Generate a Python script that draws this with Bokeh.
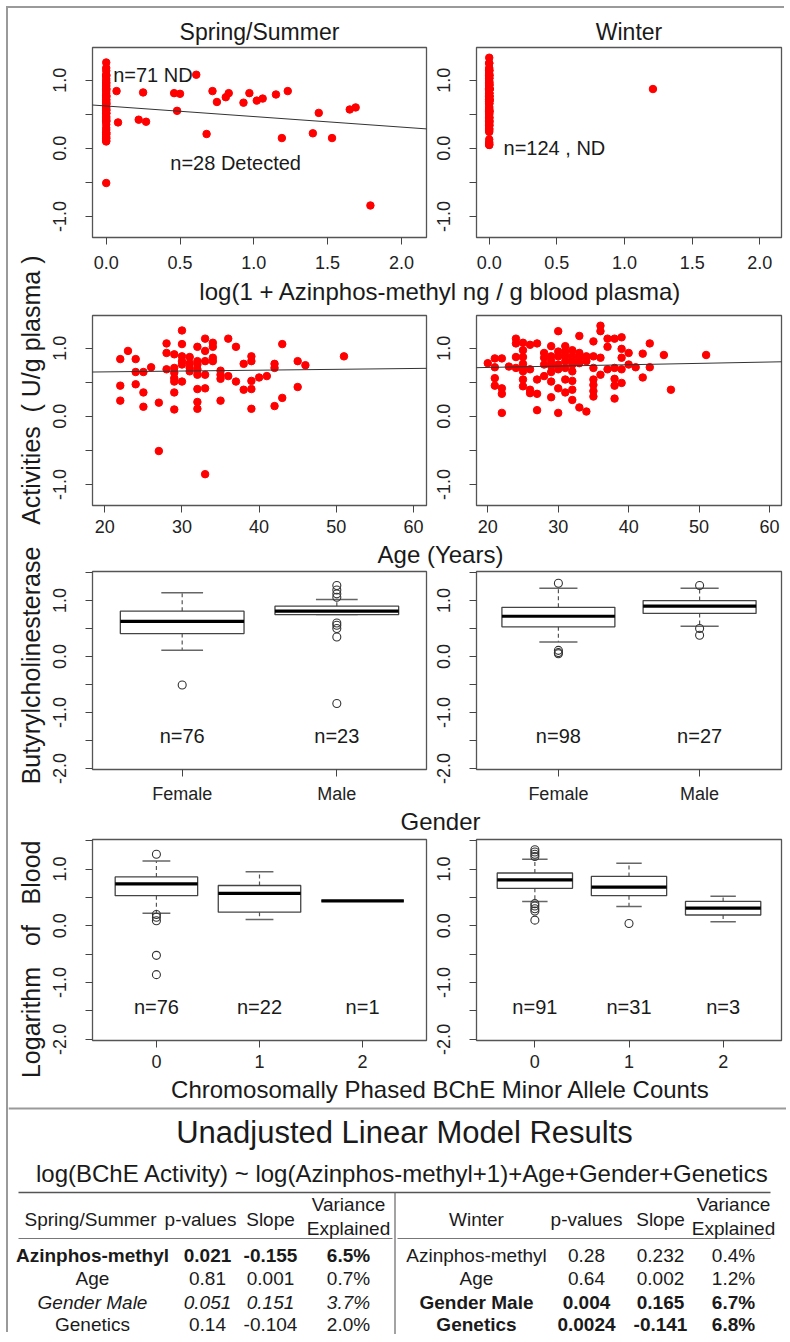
import math
from bokeh.plotting import figure
from bokeh.models import Range1d, FixedTicker, CustomJSTickFormatter, NumeralTickFormatter, Slope, Span
from bokeh.layouts import row, column
from bokeh.embed import file_html
from bokeh.resources import INLINE
from bokeh.core.properties import value

FONT = "Liberation Sans"
INK = "#1a1a1a"
FRAME = "#555555"

# ---------------- data ----------------
season_titles = ["Spring/Summer", "Winter"]

# Row 1: log BChE activity vs log(1 + azinphos-methyl); ND = not detected (x = 0)
ss_nd_act = [0.84, 0.45, 0.23, 0.96, 0.65, 0.47, 0.35, 0.14, 0.72, 0.20, -0.51, 1.07, 0.93, 0.69,
             0.91, 0.71, 0.64, 0.56, 0.51, 0.10, 1.26, 1.06, 0.88, 0.81, 0.76, 0.87, 0.78, 0.66,
             1.02, 0.61, 0.40, 0.21, 0.11, 1.14, 0.96, 0.41, 1.08, 0.86, 0.67, 0.55, 0.23, 0.59,
             0.51, 0.77, 0.39, 0.52, 0.57, 0.15, 0.27, 0.43, 0.75, 1.18, 0.30, 0.99, 0.17]
ss_det_azm = [0.07, 0.08, 0.22, 0.25, 0.27, 0.46, 0.48, 0.50, 0.61, 0.68, 0.72, 0.75, 0.81, 0.83,
              0.93, 0.97, 1.02, 1.06, 1.15, 1.19, 1.23, 1.40, 1.44, 1.53, 1.65, 1.69, 1.79]
ss_det_act = [0.84, 0.38, 0.42, 0.82, 0.39, 0.81, 0.55, 0.80, 1.08, 0.21, 0.84, 0.68, 0.75, 0.81,
              0.67, 0.81, 0.70, 0.73, 0.79, 0.15, 0.84, 0.22, 0.52, 0.15, 0.57, 0.60, -0.84]
w_nd_act = [0.78, 0.85, 0.72, 0.56, 0.45, 0.85, 0.41, 0.33, 0.05, 0.73, 1.14, 1.07, 0.87, 0.71,
            1.08, 0.97, 0.87, 0.77, 0.66, 0.54, 0.44, 0.71, 1.05, 0.69, 0.39, 0.34, 1.07, 0.54,
            0.33, 0.09, 0.93, 0.86, 0.59, 0.76, 1.03, 0.88, 0.81, 0.65, 0.51, 0.28, 0.74, 1.25,
            0.88, 0.76, 0.69, 0.41, 0.05, 0.95, 1.03, 0.88, 0.81, 0.71, 0.54, 0.35, 0.95, 0.97,
            0.88, 0.81, 0.66, 0.52, 0.39, 0.24, 0.76, 1.18, 0.93, 0.86, 0.13, 0.78, 0.88, 0.07,
            0.81, 1.10, 0.88, 0.71, 0.54, 0.46, 0.37, 0.29, 1.33, 1.25, 0.86, 0.61, 1.14, 1.02,
            0.69, 1.14, 0.71, 0.55, 0.45, 0.26, 1.16, 0.99, 0.86, 0.69, 0.49, 0.93, 0.76, 0.72,
            0.92, 0.57, 1.07, 0.72, 0.90, 0.39]
w_det_azm = [1.21]
w_det_act = [0.87]
azm_ticks = [0.0, 0.5, 1.0, 1.5, 2.0]

# Row 2: activity vs age
ss_age = [22, 22, 22, 23, 24, 24, 24, 25, 25, 25, 26, 27, 27, 28, 28, 28, 29, 29, 29, 29, 29, 29, 29,
          30, 30, 30, 30, 30, 30, 31, 31, 31, 31, 32, 32, 32, 32, 32, 32, 32, 32, 33, 33, 33, 33, 33,
          33, 34, 34, 34, 34, 35, 35, 35, 35, 36, 36, 37, 37, 38, 38, 39, 39, 39, 39, 39, 40, 41, 42,
          42, 42, 43, 43, 45, 45, 46, 51]
ss_act = [0.84, 0.45, 0.23, 0.96, 0.84, 0.65, 0.47, 0.65, 0.35, 0.14, 0.72, 0.20, -0.51, 1.07, 0.93,
          0.69, 0.91, 0.71, 0.64, 0.56, 0.51, 0.35, 0.10, 1.26, 1.06, 0.88, 0.81, 0.76, 0.51, 0.87,
          0.78, 0.71, 0.66, 1.02, 0.81, 0.76, 0.69, 0.61, 0.40, 0.21, 0.11, 1.14, 0.96, 0.81, 0.61,
          0.41, -0.85, 1.08, 1.02, 0.86, 0.81, 0.67, 0.61, 0.55, 0.23, 1.14, 0.59, 1.02, 0.51, 0.77,
          0.39, 0.88, 0.81, 0.52, 0.40, 0.11, 0.57, 0.59, 0.77, 0.71, 0.15, 1.06, 0.27, 0.81, 0.43,
          0.75, 0.88]
w_age = [20, 21, 21, 21, 21, 22, 22, 22, 22, 23, 24, 24, 24, 24, 25, 25, 25, 25, 25, 25, 25, 25,
         26, 26, 26, 26, 27, 27, 27, 27, 28, 28, 28, 28, 29, 29, 29, 29, 29, 29, 29, 30, 30, 30, 30,
         30, 30, 30, 31, 31, 31, 31, 31, 31, 31, 32, 32, 32, 32, 32, 32, 32, 32, 33, 33, 33, 33, 33,
         34, 34, 34, 35, 35, 35, 35, 35, 35, 35, 36, 36, 36, 36, 37, 37, 37, 38, 38, 38, 38, 38, 39,
         39, 39, 39, 39, 40, 40, 41, 42, 42, 43, 43, 45, 46, 51]
w_act = [0.78, 0.85, 0.72, 0.56, 0.45, 0.85, 0.41, 0.33, 0.05, 0.73, 1.14, 1.07, 0.87, 0.71, 1.08,
         0.97, 0.87, 0.77, 0.66, 0.54, 0.44, 0.71, 1.05, 0.69, 0.39, 0.34, 1.07, 0.54, 0.33, 0.09,
         0.93, 0.86, 0.59, 0.76, 1.03, 0.88, 0.81, 0.65, 0.51, 0.28, 0.74, 1.25, 0.88, 0.76, 0.69,
         0.41, 0.05, 0.95, 1.03, 0.88, 0.81, 0.71, 0.54, 0.35, 0.95, 0.97, 0.88, 0.81, 0.66, 0.52,
         0.39, 0.24, 0.76, 1.18, 0.93, 0.86, 0.13, 0.78, 0.88, 0.07, 0.81, 1.10, 0.88, 0.71, 0.54,
         0.46, 0.37, 0.29, 1.33, 1.25, 0.86, 0.61, 1.14, 1.02, 0.69, 1.14, 0.71, 0.55, 0.45, 0.26,
         1.16, 0.99, 0.86, 0.69, 0.49, 0.93, 0.76, 0.72, 0.92, 0.57, 1.07, 0.72, 0.90, 0.39, 0.90]
age_ticks = [20, 30, 40, 50, 60]

# fitted lines (intercept, slope)
fit_ss_azm = [0.621, -0.155]
fit_ss_age = [0.627, 0.00125]
fit_w_age = [0.677, 0.002]

# Row 3: gender boxplots
gender_cats = ["Female", "Male"]
ss_gender_n = [76, 23]
ss_gender_lo = [0.11, 0.75]
ss_gender_q1 = [0.41, 0.75]
ss_gender_med = [0.63, 0.81]
ss_gender_q3 = [0.81, 0.90]
ss_gender_hi = [1.14, 1.02]
ss_gender_out_grp = [0, 1, 1, 1, 1, 1, 1, 1, 1, 1]
ss_gender_out_val = [-0.51, 1.27, 1.19, 1.12, 1.06, 0.60, 0.56, 0.50, 0.35, -0.84]
w_gender_n = [98, 27]
w_gender_lo = [0.26, 0.54]
w_gender_q1 = [0.53, 0.77]
w_gender_med = [0.72, 0.90]
w_gender_q3 = [0.88, 1.00]
w_gender_hi = [1.22, 1.22]
w_gender_out_grp = [0, 0, 0, 0, 1, 1, 1]
w_gender_out_val = [1.31, 0.11, 0.07, 0.05, 1.27, 0.50, 0.38]

# Row 4: BChE minor allele count boxplots
allele_cats = ["0", "1", "2"]
ss_gen_n = [76, 22, 1]
ss_gen_lo = [0.22, 0.11, 0.44]
ss_gen_q1 = [0.53, 0.24, 0.44]
ss_gen_med = [0.74, 0.57, 0.44]
ss_gen_q3 = [0.86, 0.71, 0.44]
ss_gen_hi = [1.14, 0.95, 0.44]
ss_gen_out_grp = [0, 0, 0, 0, 0, 0]
ss_gen_out_val = [1.26, 0.20, 0.15, 0.09, -0.52, -0.86]
w_gen_n = [91, 31, 3]
w_gen_lo = [0.43, 0.34, 0.07]
w_gen_q1 = [0.66, 0.53, 0.19]
w_gen_med = [0.81, 0.68, 0.31]
w_gen_q3 = [0.93, 0.87, 0.43]
w_gen_hi = [1.17, 1.10, 0.52]
w_gen_out_grp = [0, 0, 0, 0, 0, 0, 0, 0, 0, 1]
w_gen_out_val = [1.34, 1.30, 1.26, 1.22, 0.39, 0.35, 0.30, 0.26, 0.10, 0.04]

# Table
tbl_title = "Unadjusted Linear Model Results"
tbl_formula = "log(BChE Activity) ~ log(Azinphos-methyl+1)+Age+Gender+Genetics"
tbl_terms = ["Azinphos-methyl", "Age", "Gender Male", "Genetics"]
ss_p = ["0.021", "0.81", "0.051", "0.14"]
ss_slope = ["-0.155", "0.001", "0.151", "-0.104"]
ss_var = ["6.5%", "0.7%", "3.7%", "2.0%"]
ss_style = ["bold", "normal", "italic", "normal"]
w_p = ["0.28", "0.64", "0.004", "0.0024"]
w_slope = ["0.232", "0.002", "0.165", "-0.141"]
w_var = ["0.4%", "1.2%", "6.7%", "6.8%"]
w_style = ["normal", "normal", "bold", "bold"]

ylabel_words = ["Logarithm", "of", "Blood", "Butyrylcholinesterase", "Activities", "( U/g  plasma )"]

# ---------------- helpers ----------------
LEFT_W, RIGHT_W = 384, 352
YFMT = CustomJSTickFormatter(code="return Math.abs(tick - Math.round(tick)) < 1e-6 ? tick.toFixed(1) : '';")


def panel(width, height, xr, yr, mbl, mbr, mbt, mbb, xticks, yticks, xstand, xlabels=None, xfmt=None, title=None):
    p = figure(width=width, height=height, x_range=Range1d(*xr), y_range=Range1d(*yr),
               output_backend="svg", toolbar_location=None, title=title,
               min_border_left=mbl, min_border_right=mbr, min_border_top=mbt, min_border_bottom=mbb)
    p.grid.visible = False
    p.outline_line_color = FRAME
    p.outline_line_width = 1.3
    p.border_fill_color = "white"
    p.background_fill_color = "white"
    for ax in (p.xaxis[0], p.yaxis[0]):
        ax.axis_line_color = None
        ax.major_tick_in = 0
        ax.major_tick_out = 7
        ax.major_tick_line_color = "#444444"
        ax.minor_tick_line_color = None
        ax.major_label_text_font = FONT
        ax.major_label_text_font_size = "18px"
        ax.major_label_text_color = "#222222"
    p.xaxis.ticker = FixedTicker(ticks=xticks)
    p.yaxis.ticker = FixedTicker(ticks=yticks)
    p.xaxis.major_label_standoff = xstand
    p.yaxis.major_label_standoff = 19
    p.yaxis.major_label_orientation = "parallel"
    p.yaxis.formatter = YFMT
    if xlabels is not None:
        p.xaxis.major_label_overrides = {t: l for t, l in zip(xticks, xlabels)}
    if xfmt is not None:
        p.xaxis.formatter = xfmt
    if title is not None:
        p.title.text_font = FONT
        p.title.text_font_size = "23px"
        p.title.text_font_style = "normal"
        p.title.text_color = INK
        p.title.align = "center"
        p.title.standoff = 6
    return p


def add_text(p, x, y, text, size="20px", align="left", style="normal", color=INK, angle=0.0):
    p.text(x=x, y=y, text=text, text_font=value(FONT), text_font_size=size, text_align=align,
           text_baseline="middle", text_font_style=style, text_color=color, angle=angle)


def draw_boxes(p, n, lo, q1, med, q3, hi, out_grp, out_val, ny):
    pos = [i + 1 for i in range(len(med))]
    p.segment(x0=pos, y0=q3, x1=pos, y1=hi, line_color="#555555", line_width=1.2, line_dash="4 3")
    p.segment(x0=pos, y0=q1, x1=pos, y1=lo, line_color="#555555", line_width=1.2, line_dash="4 3")
    p.segment(x0=[x - 0.135 for x in pos], y0=hi, x1=[x + 0.135 for x in pos], y1=hi,
              line_color="#666666", line_width=1.5)
    p.segment(x0=[x - 0.135 for x in pos], y0=lo, x1=[x + 0.135 for x in pos], y1=lo,
              line_color="#666666", line_width=1.5)
    p.quad(left=[x - 0.4 for x in pos], right=[x + 0.4 for x in pos], bottom=q1, top=q3,
           fill_color="white", line_color="#444444", line_width=1.3)
    p.segment(x0=[x - 0.4 for x in pos], y0=med, x1=[x + 0.4 for x in pos], y1=med,
              line_color="black", line_width=3.2)
    p.scatter(x=[g + 1 for g in out_grp], y=out_val, marker="circle", size=8,
              fill_color=None, line_color="#333333", line_width=1.1)
    add_text(p, pos, [ny] * len(pos), ["n=%d" % k for k in n], align="center")


def strip(text, height, cy):
    p = figure(width=736, height=height, x_range=Range1d(50, 786), y_range=Range1d(height, 0),
               output_backend="svg", toolbar_location=None, x_axis_location=None,
               y_axis_location=None, min_border=0)
    p.grid.visible = False
    p.outline_line_color = None
    add_text(p, [440], [cy], [text], size="24px", align="center")
    return p


RED = "#ff0000"
YR_SC = (-1.31, 1.48)
YT_SC = [-1.0, -0.5, 0.0, 0.5, 1.0]
YR_BX = (-2.02, 1.52)
YT_BX = [-2.0, -1.5, -1.0, -0.5, 0.0, 0.5, 1.0, 1.5]

# ---------------- row 1 ----------------
r1a = panel(LEFT_W, 268, (-0.093, 2.17), YR_SC, 42, 8, 39, 39, azm_ticks, YT_SC, 11,
            xfmt=NumeralTickFormatter(format="0.0"), title=season_titles[0])
r1a.scatter(x=[0.0] * len(ss_nd_act), y=ss_nd_act, size=7.5, color=RED)
r1a.scatter(x=ss_det_azm, y=ss_det_act, size=7.5, color=RED)
r1a.add_layout(Slope(gradient=fit_ss_azm[1], y_intercept=fit_ss_azm[0], line_color="#333333", line_width=1))
add_text(r1a, [0.047], [1.08], ["n=71  ND"])
add_text(r1a, [0.434], [-0.22], ["n=28 Detected"])

r1b = panel(RIGHT_W, 268, (-0.094, 2.16), YR_SC, 42, 5, 39, 39, azm_ticks, YT_SC, 11,
            xfmt=NumeralTickFormatter(format="0.0"), title=season_titles[1])
r1b.scatter(x=[0.0] * len(w_nd_act), y=w_nd_act, size=7.5, color=RED)
r1b.scatter(x=w_det_azm, y=w_det_act, size=7.5, color=RED)
add_text(r1b, [0.106], [0.01], ["n=124 , ND"])

# ---------------- row 2 ----------------
r2a = panel(LEFT_W, 235, (18.4, 61.7), YR_SC, 42, 8, 10, 35, age_ticks, YT_SC, 7)
r2a.scatter(x=ss_age, y=ss_act, size=7.5, color=RED)
r2a.add_layout(Slope(gradient=fit_ss_age[1], y_intercept=fit_ss_age[0], line_color="#333333", line_width=1))
r2b = panel(RIGHT_W, 235, (18.4, 61.7), YR_SC, 42, 5, 10, 35, age_ticks, YT_SC, 7)
r2b.scatter(x=w_age, y=w_act, size=7.5, color=RED)
r2b.add_layout(Slope(gradient=fit_w_age[1], y_intercept=fit_w_age[0], line_color="#333333", line_width=1))

# ---------------- row 3 ----------------
r3a = panel(LEFT_W, 237, (0.42, 2.58), YR_BX, 42, 8, 2, 35, [1, 2], YT_BX, 7, xlabels=gender_cats)
draw_boxes(r3a, ss_gender_n, ss_gender_lo, ss_gender_q1, ss_gender_med, ss_gender_q3, ss_gender_hi,
           ss_gender_out_grp, ss_gender_out_val, -1.42)
r3b = panel(RIGHT_W, 237, (0.42, 2.58), YR_BX, 42, 5, 2, 35, [1, 2], YT_BX, 7, xlabels=gender_cats)
draw_boxes(r3b, w_gender_n, w_gender_lo, w_gender_q1, w_gender_med, w_gender_q3, w_gender_hi,
           w_gender_out_grp, w_gender_out_val, -1.42)

# ---------------- row 4 ----------------
r4a = panel(LEFT_W, 240, (0.38, 3.62), YR_BX, 42, 8, 4, 35, [1, 2, 3], YT_BX, 7, xlabels=allele_cats)
draw_boxes(r4a, ss_gen_n, ss_gen_lo, ss_gen_q1, ss_gen_med, ss_gen_q3, ss_gen_hi,
           ss_gen_out_grp, ss_gen_out_val, -1.43)
r4b = panel(RIGHT_W, 240, (0.38, 3.62), YR_BX, 42, 5, 4, 35, [1, 2, 3], YT_BX, 7, xlabels=allele_cats)
draw_boxes(r4b, w_gen_n, w_gen_lo, w_gen_q1, w_gen_med, w_gen_q3, w_gen_hi,
           w_gen_out_grp, w_gen_out_val, -1.43)

s1 = strip("log(1 + Azinphos-methyl ng / g blood plasma)", 29, 14.5)
s2 = strip("Age (Years)", 29, 13.5)
s3 = strip("Gender", 29, 14.5)
s4 = strip("Chromosomally Phased BChE Minor Allele Counts", 29, 13.5)

# ---------------- shared y label ----------------
yl = figure(width=42, height=1096, x_range=Range1d(8, 50), y_range=Range1d(1104, 8),
            output_backend="svg", toolbar_location=None, x_axis_location=None,
            y_axis_location=None, min_border=0)
yl.grid.visible = False
yl.outline_line_color = None
word_centers = [1022, 935, 872, 665, 475, 330]
add_text(yl, [30] * len(ylabel_words), word_centers, ylabel_words, size="25px", align="center",
         angle=math.pi / 2)

# ---------------- table ----------------
tb = figure(width=778, height=230, x_range=Range1d(8, 786), y_range=Range1d(1334, 1104),
            output_backend="svg", toolbar_location=None, x_axis_location=None,
            y_axis_location=None, min_border=0)
tb.grid.visible = False
tb.outline_line_color = None
tb.add_layout(Span(location=1108, dimension="width", line_color="#9a9a9a", line_width=2))
add_text(tb, [404], [1132], [tbl_title], size="31px", align="center")
add_text(tb, [402], [1173], [tbl_formula], size="24px", align="center")
tb.segment(x0=[18], y0=[1192], x1=[770], y1=[1192], line_color="#555555", line_width=1.3)
tb.segment(x0=[18, 397], y0=[1238, 1238], x1=[392, 770], y1=[1238, 1238], line_color="#777777", line_width=1.2)
tb.segment(x0=[394.5], y0=[1192], x1=[394.5], y1=[1334], line_color="#666666", line_width=1.2)

hdr_y = 1219
add_text(tb, [90, 200, 270], [hdr_y] * 3, ["Spring/Summer", "p-values", "Slope"], size="19px", align="center")
add_text(tb, [348, 348], [1204, 1228], ["Variance", "Explained"], size="19px", align="center")
add_text(tb, [476, 586, 660], [hdr_y] * 3, ["Winter", "p-values", "Slope"], size="19px", align="center")
add_text(tb, [733, 733], [1204, 1228], ["Variance", "Explained"], size="19px", align="center")

row_y = [1255, 1278, 1302, 1324]
for i in range(len(tbl_terms)):
    add_text(tb, [92, 207, 270, 348], [row_y[i]] * 4, [tbl_terms[i], ss_p[i], ss_slope[i], ss_var[i]],
             size="19px", align="center", style=ss_style[i])
    add_text(tb, [476, 586, 660, 733], [row_y[i]] * 4, [tbl_terms[i], w_p[i], w_slope[i], w_var[i]],
             size="19px", align="center", style=w_style[i])

panels = column(row(r1a, r1b), s1, row(r2a, r2b), s2, row(r3a, r3b), s3, row(r4a, r4b), s4)
top = row(yl, panels)
root = column(top, tb, margin=(8, 0, 0, 8),
              styles={"box-shadow": "-2px -2px 0 0 #9a9a9a"})

open("out.html", "w").write(file_html(root, INLINE))
